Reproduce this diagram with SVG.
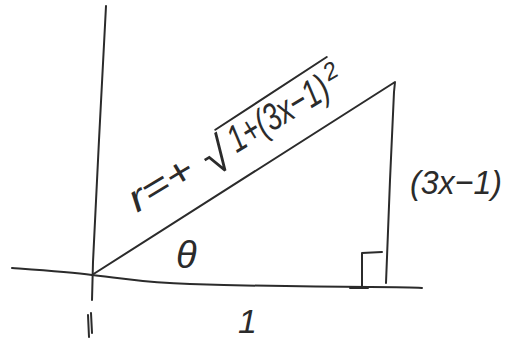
<svg xmlns="http://www.w3.org/2000/svg" width="515" height="343" viewBox="0 0 515 343">
<style>
.s{fill:none;stroke:#2b2b2b;stroke-width:2;stroke-linecap:round;stroke-linejoin:round}
.t{fill:#2b2b2b;font-family:"Liberation Sans","DejaVu Sans",sans-serif;font-style:italic}
</style>
<rect width="515" height="343" fill="#ffffff"/>
<g id="axes">
<path class="s" d="M106,6 L99,140 L93,262 L92,300"/>
<path class="s" d="M12,268 C40,270 70,272 92,275 C130,279 145,283 190,284 C260,286 330,287 370,287 C395,287 410,287 422,288"/>
<path class="s" d="M88,315 L89,337 M91,313 L92,333"/>
</g>
<g id="triangle">
<path class="s" d="M92,275 L395,82 L394,92 L390,180 L386,283"/>
<path class="s" d="M362,286 L362,253 L382,252"/>
<path class="s" d="M350,288 L368,288" stroke-width="3"/>
</g>
<g id="hyp-label" transform="translate(137,213) rotate(-31)">
<text class="t" x="0" y="0" font-size="38" textLength="70" lengthAdjust="spacingAndGlyphs">r=+</text>
<text class="t" x="84" y="9" font-size="48" font-style="normal">√</text>
<path class="s" d="M110,-31 L243,-36"/>
<text class="t" x="116" y="0" font-size="38" textLength="112" lengthAdjust="spacingAndGlyphs">1+(3x−1)</text>
<text class="t" x="232" y="-14" font-size="24">2</text>
</g>
<g id="theta-label">
<text class="t" x="176" y="268" font-size="38">θ</text>
</g>
<g id="side-label">
<text class="t" x="410" y="194" font-size="34" textLength="92" lengthAdjust="spacingAndGlyphs">(3x−1)</text>
</g>
<g id="base-label">
<text class="t" x="238" y="333" font-size="34">1</text>
</g>
</svg>
